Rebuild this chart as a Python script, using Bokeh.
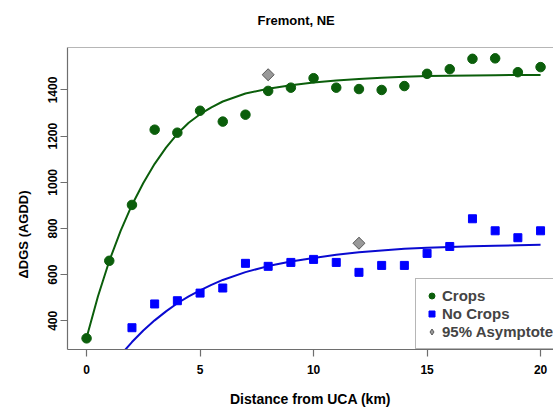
import math
from bokeh.plotting import figure
from bokeh.models import Range1d, FixedTicker, Legend, LegendItem, Span, Title
from bokeh.embed import file_html
from bokeh.resources import INLINE

# ---- data ----
distance = list(range(21))
crops = [324, 660, 902, 1228, 1215, 1310, 1263, 1293, 1396, 1410, 1451, 1410,
         1404, 1400, 1417, 1470, 1490, 1535, 1537, 1477, 1499]
nocrops_x = list(range(2, 21))
nocrops = [370, 473, 487, 520, 542, 649, 636, 653, 666, 653, 610, 640, 640,
           692, 722, 842, 790, 760, 790]
asym_x = [8, 12]
asym_y = [1466, 736]

crops_fit_x = [0, 0.5, 1, 1.5, 2, 2.5, 3, 3.5, 4, 4.5, 5, 5.5, 6, 7, 8, 9, 10,
               11, 12, 13, 14, 15, 16, 17, 18, 19, 20]
crops_fit = [327, 505, 659, 790, 902, 997, 1080, 1150, 1210, 1258, 1295, 1325,
             1350, 1385, 1405, 1420, 1432, 1441, 1448, 1453, 1457, 1460, 1462,
             1463, 1464, 1465, 1465]
nocrops_fit_x = [1, 1.5, 2, 2.5, 3, 3.5, 4, 4.5, 5, 5.5, 6, 7, 8, 9, 10, 11,
                 12, 13, 14, 15, 16, 17, 18, 19, 20]
nocrops_fit = [188, 252, 308, 358, 402, 441, 476, 506, 532, 556, 577, 611, 637,
               657, 672, 686, 697, 705, 712, 717, 720, 723, 725, 727, 729]

x_ticks = [0, 5, 10, 15, 20]
y_ticks = [400, 600, 800, 1000, 1200, 1400]

title_text = "Fremont, NE"
x_title = "Distance from UCA (km)"
y_title = "\u0394DGS (AGDD)"
legend_labels = ["Crops", "No Crops", "95% Asymptote"]

GREEN = "#0b5e0b"
BLUE = "#0000ff"
AXIS = "#6e6e6e"
FONT = "Liberation Sans"

p = figure(width=553, height=409, output_backend="svg", toolbar_location=None,
           x_range=Range1d(-0.84, 20.57), y_range=Range1d(275.7, 1584),
           min_border_left=67, min_border_right=0, min_border_top=47,
           min_border_bottom=57)
p.xgrid.visible = False
p.ygrid.visible = False
p.outline_line_color = None
p.background_fill_color = "white"
p.border_fill_color = "white"

p.title.text = title_text
p.title.align = "left"
p.title.offset = 190
p.title.text_font = FONT
p.title.text_font_style = "bold"
p.title.text_font_size = "13px"
p.title.text_color = "black"
try:
    p.title.padding = dict(left=0, right=0, top=0, bottom=15)
    p.title.vertical_align = "bottom"
    p.title.standoff = 10
except Exception:
    p.title.vertical_align = "top"
    p.title.standoff = 31

for ax in (p.xaxis[0], p.yaxis[0]):
    ax.axis_line_color = AXIS
    ax.axis_line_width = 1.2
    ax.major_tick_line_color = AXIS
    ax.major_tick_line_width = 1.2
    ax.major_tick_in = 0
    ax.major_tick_out = 7
    ax.minor_tick_line_color = None
    ax.major_label_text_font = FONT
    ax.major_label_text_font_style = "bold"
    ax.major_label_text_color = "black"

p.xaxis.ticker = FixedTicker(ticks=x_ticks)
p.yaxis.ticker = FixedTicker(ticks=y_ticks)
p.xaxis.major_label_text_font_size = "12px"
p.xaxis.major_label_standoff = 8
p.xaxis.axis_label = x_title
p.xaxis.axis_label_text_font = FONT
p.xaxis.axis_label_text_font_style = "bold"
p.xaxis.axis_label_text_font_size = "14px"
p.xaxis.axis_label_text_color = "black"
p.xaxis.axis_label_standoff = 14
p.yaxis.major_label_text_font_size = "12px"
p.yaxis.major_label_orientation = "vertical"
p.yaxis.major_label_standoff = 3

ytitle = Title(text=y_title, align="left", offset=71, vertical_align="top",
               standoff=25, text_font=FONT, text_font_style="bold",
               text_font_size="13px", text_color="black")
p.add_layout(ytitle, "left")

top = Span(location=1584, dimension="width", line_color=AXIS, line_width=1.2)
p.add_layout(top)

# fitted curves
p.line(crops_fit_x, crops_fit, line_color=GREEN, line_width=2)
p.line(nocrops_fit_x, nocrops_fit, line_color="#0a0ad0", line_width=2)

r_crops = p.scatter(distance, crops, marker="circle", size=9.5,
                    fill_color=GREEN, line_color=GREEN)
r_nocrops = p.scatter(nocrops_x, nocrops, marker="square", size=8,
                      fill_color=BLUE, line_color=BLUE)
r_asym_leg = p.scatter(asym_x, asym_y, marker="diamond", size=11,
                       fill_color="#999999", line_color="#5a5a5a")
p.scatter(asym_x, asym_y, marker="square", size=8.5, angle=math.pi / 4,
          fill_color="#999999", line_color="#5a5a5a")

legend = Legend(items=[LegendItem(label=legend_labels[0], renderers=[r_crops]),
                       LegendItem(label=legend_labels[1], renderers=[r_nocrops]),
                       LegendItem(label=legend_labels[2], renderers=[r_asym_leg])],
                location=(348, 0), padding=8, spacing=1, margin=0,
                glyph_width=15, glyph_height=17, label_height=17,
                label_standoff=3, label_text_font=FONT,
                label_text_font_style="bold", label_text_font_size="15px",
                border_line_color=AXIS, border_line_width=1.2,
                background_fill_alpha=1.0)
p.add_layout(legend)

open("out.html", "w").write(file_html(p, INLINE))
